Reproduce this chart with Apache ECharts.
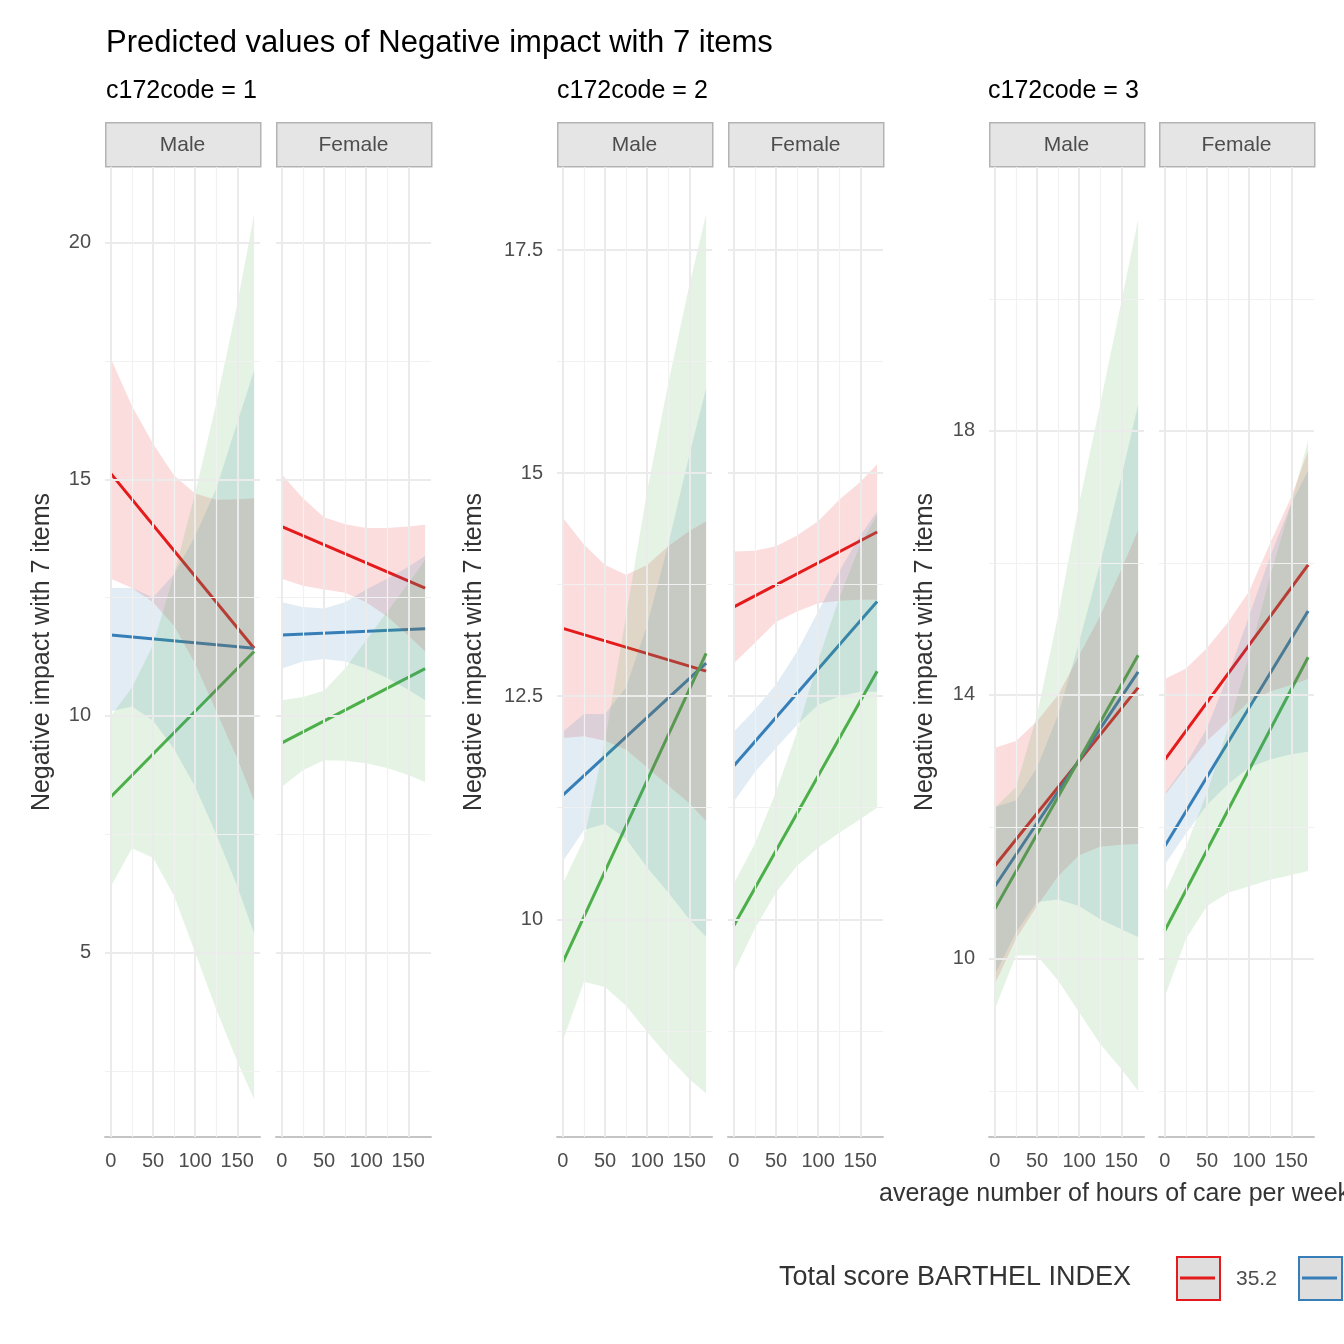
<!DOCTYPE html>
<html>
<head>
<meta charset="utf-8">
<script src="https://cdn.jsdelivr.net/npm/echarts@6/dist/echarts.min.js"></script>
<style>html,body{margin:0;padding:0;background:#fff}#chart{width:1344px;height:1344px}</style>
</head>
<body>
<div id="chart"></div>
<script>
// hours of care (x) at which the bands were read
const xs = [0, 25, 50, 75, 100, 125, 150, 170];
const lineX = [0, 170];
const groups = ['c172code = 1', 'c172code = 2', 'c172code = 3'];
const sexes = ['Male', 'Female'];
const colours = ['#E41A1C', '#377EB8', '#4DAF4A'];
const legendLabels = ['35.2'];

// y ticks per group
const yMajor = [[5, 10, 15, 20], [10, 12.5, 15, 17.5], [10, 14, 18]];
const yMinor = [[2.5, 7.5, 12.5, 17.5], [8.75, 11.25, 13.75, 16.25], [8, 12, 16, 20]];
const yRange = [[1.1, 21.6], [7.56, 18.43], [7.3, 22]];
const xMajor = [0, 50, 100, 150];
const xMinor = [25, 75, 125];

// fitted lines [start, end] : red, blue, green  per panel (g1M, g1F, g2M, g2F, g3M, g3F)
const lines = [
  [[15.12, 11.43], [11.71, 11.43], [8.29, 11.36]],
  [[14.0, 12.7], [11.71, 11.84], [9.43, 11.0]],
  [[13.26, 12.78], [11.39, 12.87], [9.52, 12.98]],
  [[13.5, 14.34], [11.72, 13.56], [9.93, 12.78]],
  [[11.41, 14.11], [11.1, 14.35], [10.76, 14.6]],
  [[13.02, 15.97], [11.71, 15.27], [10.43, 14.57]]
];

// confidence bands [lower, upper] : red, blue, green per panel
const bands = [
  [
    [[12.9, 12.7, 12.4, 11.9, 11.1, 10.1, 9.1, 8.2], [17.55, 16.55, 15.75, 15.08, 14.7, 14.57, 14.58, 14.6]],
    [[10.1, 10.2, 9.9, 9.3, 8.5, 7.5, 6.4, 5.4], [12.7, 12.7, 12.5, 13.0, 13.8, 14.8, 16.2, 17.3]],
    [[6.4, 7.2, 7.0, 6.2, 5.0, 3.8, 2.7, 1.9], [10.0, 10.6, 11.5, 13.0, 14.7, 16.6, 18.7, 20.6]]
  ],
  [
    [[12.9, 12.75, 12.67, 12.6, 12.4, 12.1, 11.7, 11.36], [15.1, 14.6, 14.2, 14.05, 13.97, 13.97, 14.0, 14.04]],
    [[11.0, 11.15, 11.2, 11.15, 11.0, 10.8, 10.55, 10.33], [12.4, 12.3, 12.27, 12.4, 12.67, 12.9, 13.15, 13.38]],
    [[8.5, 8.85, 9.06, 9.05, 9.0, 8.9, 8.75, 8.6], [10.33, 10.4, 10.53, 11.0, 11.6, 12.2, 12.8, 13.3]]
  ],
  [
    [[12.03, 12.05, 12.0, 11.9, 11.7, 11.5, 11.3, 11.1], [14.5, 14.2, 13.97, 13.86, 13.97, 14.18, 14.35, 14.46]],
    [[10.65, 11.0, 11.07, 10.9, 10.58, 10.3, 10.0, 9.8], [12.1, 12.3, 12.3, 12.6, 13.3, 14.2, 15.2, 15.95]],
    [[8.64, 9.3, 9.24, 9.03, 8.74, 8.46, 8.21, 8.05], [10.4, 10.9, 12.0, 13.4, 14.8, 16.0, 17.1, 17.9]]
  ],
  [
    [[12.87, 13.1, 13.33, 13.45, 13.54, 13.57, 13.58, 13.58], [14.12, 14.13, 14.18, 14.3, 14.46, 14.7, 14.9, 15.1]],
    [[11.32, 11.65, 11.92, 12.18, 12.4, 12.5, 12.55, 12.55], [12.1, 12.35, 12.63, 13.0, 13.45, 13.9, 14.3, 14.57]],
    [[9.41, 9.9, 10.3, 10.6, 10.8, 10.97, 11.12, 11.25], [10.4, 10.85, 11.43, 12.1, 12.9, 13.6, 14.2, 14.53]]
  ],
  [
    [[9.62, 10.3, 10.8, 11.25, 11.57, 11.7, 11.73, 11.74], [13.2, 13.3, 13.6, 14.0, 14.6, 15.2, 15.9, 16.5]],
    [[9.76, 10.4, 10.86, 10.9, 10.8, 10.6, 10.45, 10.33], [12.3, 12.4, 12.9, 13.7, 14.8, 16.0, 17.3, 18.4]],
    [[9.24, 10.05, 10.05, 9.67, 9.19, 8.71, 8.33, 8.0], [12.29, 12.6, 13.7, 15.2, 16.9, 18.4, 19.95, 21.2]]
  ],
  [
    [[12.48, 12.9, 13.3, 13.6, 13.9, 14.05, 14.15, 14.24], [14.24, 14.4, 14.71, 15.1, 15.57, 16.3, 17.0, 17.7]],
    [[11.43, 11.9, 12.33, 12.65, 12.9, 13.02, 13.1, 13.14], [12.5, 12.95, 13.5, 14.3, 15.2, 16.1, 16.9, 17.4]],
    [[9.43, 10.3, 10.8, 11.0, 11.1, 11.2, 11.27, 11.33], [11.0, 11.7, 12.52, 13.5, 14.6, 15.8, 16.9, 17.86]]
  ]
];

const panelLeft = [105, 276, 557, 728, 989, 1159];
const panelW = 155, plotTop = 167, plotBottom = 1344 - 1137;
const font = 'Liberation Sans';

const grid = [], xAxis = [], yAxis = [], series = [], graphic = [];

panelLeft.forEach((left, p) => {
  const g = Math.floor(p / 2), female = p % 2 === 1;
  grid.push({ left: left, width: panelW, top: plotTop, bottom: plotBottom });
  xAxis.push({
    gridIndex: p, type: 'value', min: -7, max: 177,
    axisLine: { show: true, lineStyle: { color: '#c4c4c4', width: 2 } },
    axisTick: { show: false }, splitLine: { show: false },
    axisLabel: { customValues: xMajor, color: '#4d4d4d', fontSize: 20, fontFamily: font, margin: 14 }
  });
  yAxis.push({
    gridIndex: p, type: 'value', min: yRange[g][0], max: yRange[g][1],
    axisLine: { show: !female, lineStyle: { color: '#c4c4c4', width: 2 } },
    axisTick: { show: false }, splitLine: { show: false },
    axisLabel: female ? { show: false } : { customValues: yMajor[g], color: '#4d4d4d', fontSize: 20, fontFamily: font, margin: 14 }
  });

  // grid lines
  const ml = [];
  yMajor[g].forEach(v => ml.push({ yAxis: v, lineStyle: { color: '#ebebeb', width: 2 } }));
  yMinor[g].forEach(v => ml.push({ yAxis: v, lineStyle: { color: '#f1f1f1', width: 1.2 } }));
  xMajor.forEach(v => ml.push({ xAxis: v, lineStyle: { color: '#ebebeb', width: 2 } }));
  xMinor.forEach(v => ml.push({ xAxis: v, lineStyle: { color: '#f1f1f1', width: 1.2 } }));
  series.push({
    type: 'line', xAxisIndex: p, yAxisIndex: p, data: [[0, yRange[g][0]]], showSymbol: false, z: 0, silent: true,
    lineStyle: { width: 0 },
    markLine: { silent: true, symbol: 'none', label: { show: false }, lineStyle: { type: 'solid' }, data: ml, animation: false }
  });

  colours.forEach((c, k) => {
    series.push({
      type: 'line', xAxisIndex: p, yAxisIndex: p, z: 2, symbol: 'none', silent: true,
      lineStyle: { color: c, width: 3 }, itemStyle: { color: c },
      data: lineX.map((x, i) => [x, lines[p][k][i]])
    });
    const lo = bands[p][k][0], up = bands[p][k][1];
    series.push({
      type: 'custom', xAxisIndex: p, yAxisIndex: p, z: 3, silent: true,
      data: [[xs[0], lo[0], up[0]]],
      renderItem: (params, api) => {
        const pts = xs.map((x, i) => api.coord([x, up[i]]))
          .concat(xs.map((x, i) => api.coord([x, lo[i]])).reverse());
        return { type: 'polygon', shape: { points: pts }, style: { fill: c, opacity: 0.15 } };
      }
    });
  });

  // strip
  graphic.push({ type: 'rect', left: left, top: 122, shape: { width: panelW, height: 44 },
    style: { fill: '#e5e5e5', stroke: '#b3b3b3', lineWidth: 1.5 } });
  graphic.push({ type: 'text', x: left + panelW / 2, y: 145,
    style: { text: sexes[p % 2], fill: '#4d4d4d', font: '21px ' + font, align: 'center', verticalAlign: 'middle' } });
});

// titles
graphic.push({ type: 'text', x: 106, y: 43, style: { text: 'Predicted values of Negative impact with 7 items', fill: '#000', font: '31px ' + font, verticalAlign: 'middle' } });
[106, 557, 988].forEach((x, g) => {
  graphic.push({ type: 'text', x: x, y: 91, style: { text: groups[g], fill: '#000', font: '25px ' + font, verticalAlign: 'middle' } });
});
[42, 474, 925].forEach(x => {
  graphic.push({ type: 'text', x: x, y: 652, rotation: Math.PI / 2,
    style: { text: 'Negative impact with 7 items', fill: '#333', font: '25px ' + font, align: 'center', verticalAlign: 'middle' } });
});
graphic.push({ type: 'text', x: 879, y: 1194, style: { text: 'average number of hours of care per week', fill: '#333', font: '25px ' + font, verticalAlign: 'middle' } });

// legend
graphic.push({ type: 'text', x: 779, y: 1278, style: { text: 'Total score BARTHEL INDEX', fill: '#333', font: '27px ' + font, verticalAlign: 'middle' } });
[1176, 1298].forEach((x, k) => {
  graphic.push({ type: 'rect', left: x, top: 1256, shape: { width: 43, height: 43 },
    style: { fill: '#dedede', stroke: colours[k], lineWidth: 2 } });
  graphic.push({ type: 'line', shape: { x1: x + 4, y1: 1278, x2: x + 39, y2: 1278 },
    style: { stroke: colours[k], lineWidth: 3 } });
});
graphic.push({ type: 'text', x: 1236, y: 1279, style: { text: legendLabels[0], fill: '#4d4d4d', font: '21px ' + font, verticalAlign: 'middle' } });

const chart = echarts.init(document.getElementById('chart'));
chart.setOption({ animation: false, grid, xAxis, yAxis, series, graphic });
</script>
</body>
</html>
